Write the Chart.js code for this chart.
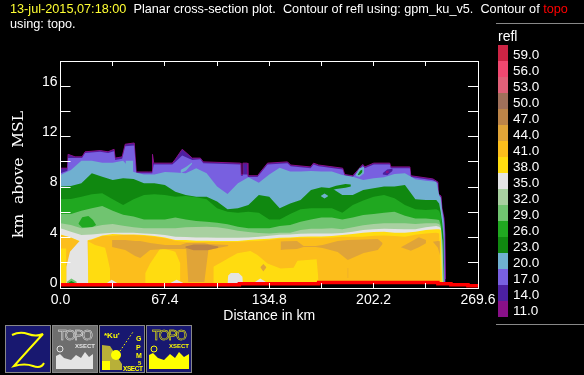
<!DOCTYPE html>
<html>
<head>
<meta charset="utf-8">
<title>refl cross-section</title>
<script src="https://cdn.jsdelivr.net/npm/chart.js@4"></script>
<style>
  body { margin: 0; background: #000; width: 584px; height: 375px; overflow: hidden; position: relative; font-family: "Liberation Sans", sans-serif; color: #fff; }
  canvas { position: absolute; left: 0; top: 0; }
  .title { position: absolute; left: 10px; font-size: 12.7px; white-space: pre; }
  .rule { position: absolute; left: 496px; width: 88px; height: 1px; background: #888; }
  #legend { position: absolute; left: 498px; top: 45px; }
  .swatch { width: 10px; height: 16px; position: relative; }
  .swatch span { position: absolute; left: 15px; top: 2px; font-size: 13.5px; line-height: 16px; }
  #unit { position: absolute; left: 498px; top: 28px; font-size: 14px; }
  svg { position: absolute; left: 0; top: 320px; }
</style>
</head>
<body>
<canvas id="chart" width="584" height="375"></canvas>

<div class="title" style="top:2px"><span style="color:#ffff33">13-jul-2015,07:18:00</span>  Planar cross-section plot.  Contour of refl using: gpm_ku_v5.  Contour of <span style="color:#ff0000">topo</span></div>
<div class="title" style="top:17px">using: topo.</div>

<div class="rule" style="top:23px"></div>
<div class="rule" style="top:324px"></div>
<div id="unit">refl</div>
<div id="legend"></div>

<svg width="200" height="55" font-family="Liberation Sans, sans-serif">
  <!-- Z -->
  <rect x="5.5" y="5.5" width="45" height="47" fill="#181870" stroke="#888"/>
  <path d="M12 15 Q20 11 28 14 T43 14 Q30 28 14 46 Q25 43 33 46 T44 43" fill="none" stroke="#ffff00" stroke-width="2"/>
  <!-- gray topo -->
  <rect x="52.5" y="5.5" width="45" height="47" fill="#6e6e6e" stroke="#888"/>
  <text x="58" y="20" font-size="14" fill="none" stroke="#e4e4e4" stroke-width="0.5" textLength="35">TOPO</text>
  <text x="75" y="28" font-size="6" font-weight="bold" fill="#e4e4e4" textLength="20">XSECT</text>
  <circle cx="60" cy="29" r="3" fill="none" stroke="#e4e4e4"/>
  <path d="M56 49 V36 L60 34 L64 38 L71 40 L76 35 L81 38 L85 32 L89 37 L93 34 V49 Z" fill="#e4e4e4"/>
  <!-- gpm -->
  <rect x="99.5" y="5.5" width="45" height="47" fill="#181870" stroke="#888"/>
  <text x="104" y="18" font-size="8" font-weight="bold" fill="#ffff00">*Ku'</text>
  <text x="136" y="21" font-size="7" font-weight="bold" fill="#ffff00">G</text>
  <text x="136" y="30" font-size="7" font-weight="bold" fill="#ffff00">P</text>
  <text x="136" y="38" font-size="7" font-weight="bold" fill="#ffff00">M</text>
  <text x="138" y="45" font-size="6" font-weight="bold" fill="#ffff00">5</text>
  <text x="123" y="51" font-size="6.5" font-weight="bold" fill="#ffff00" textLength="20">XSECT</text>
  <path d="M102 25 L110 26 L122 44 L122 50 L102 50 Z" fill="#b8b038"/>
  <circle cx="116" cy="35" r="5" fill="#ffff00"/>
  <rect x="102" y="41" width="8" height="9" fill="#ffff00"/>
  <path d="M120 31 L133 12" stroke="#ffff00" stroke-width="1" stroke-dasharray="1.5 2"/>
  <!-- yellow topo -->
  <rect x="146.5" y="5.5" width="45" height="47" fill="#181870" stroke="#888"/>
  <text x="152" y="20" font-size="14" fill="none" stroke="#ffff00" stroke-width="0.5" textLength="35">TOPO</text>
  <text x="169" y="28" font-size="6" font-weight="bold" fill="#ffff00" textLength="20">XSECT</text>
  <circle cx="154" cy="29" r="3" fill="none" stroke="#ffff00"/>
  <path d="M149 49 V35 L153 33 L158 38 L164 40 L170 34 L175 38 L179 32 L184 37 L189 34 V49 Z" fill="#ffff00"/>
</svg>

<script>
// legend
const legendLevels = [59, 56, 53, 50, 47, 44, 41, 38, 35, 32, 29, 26, 23, 20, 17, 14, 11];
const legendColors = ["#cc2444", "#f04870", "#e06078", "#a0705a", "#bc8448", "#e0a438", "#fcbe1c", "#ffdc10", "#e4e4e4",
  "#a8d0a0", "#70c470", "#20a820", "#108810", "#70b0d0", "#7860e0", "#4c20a0", "#881088"];

// axes
const xRange = [0, 269.6];
const yRange = [0, 18];
const xStep = 33.7;
const yStep = 2;
const yLabelValues = [0, 4, 8, 12, 16];

// cloud outline, km along the section and km above MSL
const cloudKm = [0, 4.5, 4.9, 9.4, 13.9, 15.9, 25.6, 30.7, 34.6, 35.3, 39.8, 41.8, 47.6, 48.9, 56.6, 59.2, 59.4, 60.2, 72.2, 74.1, 78.6, 85.1, 90.3, 92.2,
  116.2, 116.5, 117.5, 117.8, 120.7, 121, 127.2, 133.7, 146.6, 148.6, 161.5, 163.4, 166.7, 182.2, 183.5, 188.7, 195.2, 196.5, 202.3, 212.6, 213.3, 225.6, 226.2, 240.5, 243.7, 244, 245.7, 246.3, 247.6, 248.2, 248.6];
const top14 = [9.5, 9.5, 10.6, 10.4, 10.4, 10.8, 10.9, 10.8, 11.0, 10.3, 10.4, 11.4, 11.5, 9.2, 9.2, 9.2, 10.6, 9.9, 9.9, 10.2, 11.0, 10.3, 10.3, 10.0,
  9.9, 9.0, 9.0, 9.9, 9.9, 8.9, 8.9, 9.9, 10.0, 9.75, 9.6, 9.9, 9.75, 9.5, 9.0, 8.9, 9.8, 9.6, 9.9, 9.9, 9.6, 9.6, 8.9, 8.65, 8.4, 7.45, 7.3, 6.35, 5.55, 4.3, 0.7];
const top17 = [9.1, 9.3, 10.3, 10.3, 10.3, 10.7, 10.8, 10.7, 10.85, 10.15, 10.25, 11.25, 11.3, 9.1, 9.1, 9.1, 9.1, 9.8, 9.8, 10.0, 10.5, 10.15, 10.2, 9.9,
  9.8, 8.9, 8.9, 9.0, 9.0, 8.8, 8.8, 9.8, 9.9, 9.65, 9.5, 9.8, 9.65, 9.4, 8.9, 8.8, 9.7, 9.5, 9.8, 9.8, 9.5, 9.5, 8.8, 8.55, 8.3, 7.4, 7.2, 6.3, 5.5, 4.3, 0.7];

// inner contours share this grid
const distKm = [0, 6.74, 13.48, 20.22, 26.96, 33.7, 40.44, 47.18, 53.92, 60.66, 67.4, 74.14, 80.88, 87.62, 94.36, 101.1, 107.84, 114.58, 121.32, 128.06, 134.8,
  141.54, 148.28, 155.02, 161.76, 168.5, 175.24, 181.98, 188.72, 195.46, 202.2, 208.94, 215.68, 222.42, 229.16, 235.9, 242.64, 244.5, 245.5, 246.5, 247.5];
const top20 = [8.96, 9.36, 10.10, 10.10, 9.94, 9.94, 10.10, 9.2, 9.0, 9.0, 9.2, 9.15, 9.09, 9.49, 9.09, 8.04, 7.45, 8.30, 8.78, 8.35, 9.0, 9.54,
  9.23, 9.23, 9.28, 9.23, 9.23, 8.96, 8.83, 8.57, 8.70, 8.78, 9.04, 9.09, 8.62, 8.51, 8.43, 7.37, 7.11, 6.05, 5.13];
const top23 = [8.04, 8.09, 8.30, 9.09, 8.83, 8.57, 8.70, 8.65, 8.30, 8.30, 8.17, 7.64, 7.37, 7.24, 7.24, 6.85, 6.24, 6.32, 6.58, 7.37, 7.24, 6.32,
  6.71, 6.98, 7.77, 7.98, 7.90, 7.37, 7.37, 7.77, 7.90, 8.04, 8.04, 8.17, 7.03, 6.98, 6.98, 6.71, 6.05, 5.13, 3.80];
const top26 = [7.03, 7.06, 7.24, 7.43, 7.51, 7.03, 6.58, 7.03, 7.37, 7.43, 7.37, 7.24, 7.30, 7.19, 7.03, 6.32, 6.05, 5.97, 6.05, 5.97, 5.44, 5.44,
  5.87, 6.24, 6.32, 6.32, 6.32, 5.97, 6.58, 6.93, 7.24, 7.37, 7.11, 6.58, 6.24, 6.18, 6.24, 6.13, 5.79, 4.60, 0.5];
const top29 = [5.87, 5.87, 6.13, 6.32, 6.50, 6.13, 5.81, 5.66, 5.44, 5.44, 5.44, 5.60, 5.44, 5.31, 5.26, 5.18, 5.05, 4.86, 4.73, 4.73, 4.73, 4.91,
  4.99, 5.26, 5.44, 5.60, 5.60, 5.44, 5.60, 5.79, 5.87, 5.97, 6.05, 5.73, 5.52, 5.52, 5.44, 5.39, 4.99, 3.80, 0.35];
const top32 = [5.13, 4.99, 4.73, 4.81, 4.99, 5.07, 4.94, 4.81, 4.73, 4.73, 4.73, 4.73, 4.81, 4.84, 4.86, 4.81, 4.70, 4.54, 4.44, 4.36, 4.33, 4.39,
  4.39, 4.60, 4.70, 4.70, 4.73, 4.65, 4.81, 4.97, 5.07, 5.13, 5.13, 5.13, 5.07, 5.13, 5.13, 5.07, 4.86, 3.80, 0.35];
const top35 = [4.73, 4.46, 4.20, 4.25, 4.33, 4.39, 4.39, 4.39, 4.33, 4.28, 4.20, 4.07, 4.04, 4.01, 4.01, 3.99, 3.99, 3.99, 4.01, 4.07, 4.15, 4.23,
  4.25, 4.31, 4.33, 4.33, 4.33, 4.36, 4.46, 4.60, 4.65, 4.70, 4.68, 4.65, 4.65, 4.81, 4.91, 4.86, 4.73, 0.5, 0.35];
const top38 = [4.25, 4.01, 3.67, 3.86, 4.17, 4.28, 4.25, 4.25, 4.20, 4.12, 4.01, 3.80, 3.80, 3.75, 3.75, 3.72, 3.72, 3.72, 3.80, 3.86, 3.91, 3.99,
  4.01, 4.07, 4.09, 4.09, 4.12, 4.20, 4.28, 4.39, 4.44, 4.46, 4.39, 4.39, 4.46, 4.60, 4.65, 4.65, 4.60, 0.35, 0.35];
const top41 = [4.20, 3.99, 3.62, 3.80, 4.12, 4.15, 4.20, 4.20, 4.15, 4.07, 3.94, 3.75, 3.65, 3.65, 3.65, 3.65, 3.65, 3.65, 3.70, 3.72, 3.80, 3.91,
  3.94, 3.99, 3.99, 3.99, 4.01, 4.07, 4.07, 4.07, 4.15, 4.17, 4.12, 4.07, 4.23, 4.33, 4.39, 4.33, 0.35, 0.35, 0.35];

// terrain
const topoKm = [0, 115.5, 166.7, 243.7, 252.1, 263.1, 269.6];
const topoHeight = [0.26, 0.34, 0.44, 0.34, 0.26, 0.18, 0.18];

// closed pockets of one level inside another: km, top, bottom
const yellowAKm = [0, 3.8];
const yellowATop = [3.14, 3.14];
const yellowABase = [0.35, 0.35];
const yellowBKm = [17.8, 22.3, 28.8, 30, 32];
const yellowBTop = [3.7, 3.4, 3.2, 2.6, 1.5];
const yellowBBase = [0.35, 0.35, 0.35, 0.35, 0.35];
const yellowCKm = [54.7, 57.9, 64.4, 70.9, 74.1, 77.4];
const yellowCTop = [1.16, 1.95, 3.14, 3.0, 2.88, 1.95];
const yellowCBase = [0.35, 0.35, 0.35, 0.35, 0.35, 0.35];
const yellowDKm = [98.7, 104.5, 108.4, 114.2, 122.6, 127.2, 133.7, 142.1, 150.5, 153, 165.4, 166.7];
const yellowDTop = [1.69, 2.08, 2.35, 2.75, 2.93, 2.61, 1.95, 1.55, 1.6, 2.16, 2.27, 0.5];
const yellowDBase = [0.35, 0.35, 0.35, 0.35, 0.35, 0.35, 0.35, 0.35, 0.35, 0.35, 0.35, 0.35];

const orangeAKm = [33.3, 41.8, 48.2, 51.5, 57.9, 67.6, 77.4, 81.2, 82.5, 92.9, 95.5, 108.4];
const orangeATop = [3.81, 3.81, 3.73, 3.73, 3.57, 3.41, 3.41, 3.57, 3.57, 3.57, 3.49, 3.41];
const orangeABase = [3.25, 3.01, 2.54, 2.38, 3.01, 3.09, 3.09, 3.09, 0.48, 0.48, 3.01, 3.33];
const orangeBKm = [142.1, 145, 152.7, 157, 164.8, 169.3, 179, 185.5, 195.8, 204.9, 208];
const orangeBTop = [3.69, 3.71, 3.73, 3.33, 3.33, 3.41, 3.73, 3.81, 3.85, 3.89, 3.57];
const orangeBBase = [3.01, 3.05, 3.09, 3.25, 3.25, 3.17, 2.85, 2.22, 2.78, 3.01, 3.49];
const orangeCKm = [219.8, 226.2, 231.4, 236];
const orangeCTop = [3.23, 3.67, 4.02, 3.81];
const orangeCBase = [3.23, 2.96, 3.23, 3.54];
const orangeDKm = [240.5, 243.7, 245];
const orangeDTop = [3.67, 3.72, 3.7];
const orangeDBase = [3.67, 3.2, 2.6];
const orangeEKm = [129, 131, 133];
const orangeETop = [1.65, 1.9, 1.65];
const orangeEBase = [1.65, 1.3, 1.65];
const orangeFKm = [185.3, 185.9];
const orangeFTop = [1.59, 1.59];
const orangeFBase = [0.79, 0.79];
const brownKm = [80.6, 86, 95, 102];
const brownTop = [3.3, 3.45, 3.45, 3.3];
const brownBase = [3.2, 3.0, 3.0, 3.2];

const whiteAKm = [3.6, 3.8, 6.1, 11.3, 13, 17.5, 18];
const whiteATop = [0.4, 1.69, 2.88, 3.59, 3.8, 3.8, 0.4];
const whiteABase = [0.35, 0.35, 0.35, 0.35, 0.35, 0.35, 0.35];
const whiteBKm = [107.8, 108.3, 110, 115, 117.5, 117.8];
const whiteBTop = [0.4, 1.0, 1.18, 1.18, 0.9, 0.4];
const whiteBBase = [0.35, 0.35, 0.35, 0.35, 0.35, 0.35];
const whiteCKm = [30, 33, 36.6];
const whiteCTop = [0.4, 0.65, 0.4];
const whiteDKm = [70.9, 75, 79.3];
const whiteDTop = [0.4, 0.65, 0.4];
const whiteEKm = [124.6, 129, 133.7];
const whiteETop = [0.4, 0.75, 0.4];
const thinBase = [0.35, 0.35, 0.35];

const lowGreenKm = [4.2, 7, 10.5];
const lowGreenTop = [0.5, 0.75, 0.5];
const lowDarkKm = [5, 7, 9.5];
const lowDarkTop = [0.4, 0.55, 0.4];
const greenBlobKm = [11.5, 14, 18, 21, 23];
const greenBlobTop = [5.1, 5.62, 5.71, 5.4, 5.0];
const greenBlobBase = [5.1, 4.8, 4.8, 4.85, 5.0];
const fingerKm = [173, 178, 184, 187.5];
const fingerTop = [7.9, 8.1, 8.25, 8.2];
const fingerBase = [7.7, 7.85, 7.95, 8.05];
const holeKm = [168, 170.5, 173];
const holeTop = [7.3, 7.5, 7.3];
const holeBase = [7.3, 7.1, 7.3];
const spikeKm = [42, 47];
const spikeTop = [10.1, 10.1];
const spikeBase = [9.0, 9.0];
const streakKm = [77.5, 81, 85];
const streakTop = [9.35, 9.6, 9.95];
const streakBase = [9.1, 9.3, 9.85];
const smallBlueKm = [190.6, 193, 196];
const smallBlueTop = [9.0, 9.5, 9.6];
const smallBlueBase = [8.9, 8.8, 9.1];
const smallGreenKm = [192, 193.5, 195];
const smallGreenTop = [9.0, 9.3, 9.4];
const smallGreenBase = [8.95, 9.0, 9.2];
const darkBlobKm = [208, 211, 214.5];
const darkBlobTop = [9.1, 9.4, 9.45];
const darkBlobBase = [9.0, 8.95, 9.3];
const darkCoreKm = [210, 212];
const darkCoreTop = [9.28, 9.32];
const darkCoreBase = [9.1, 9.12];

const groundKm = 0.35;

function colorOf(level) {
  return legendColors[legendLevels.indexOf(level)];
}

function zip(xs, ys) {
  return xs.map((x, i) => ({ x: x, y: ys[i] }));
}

// painted from the outside in, reversed at the end because Chart.js paints the first dataset last
let painted = [];

function addLevel(level, xs, ys, border) {
  painted.push({
    label: "refl " + level,
    data: zip(xs, ys),
    borderColor: border || "transparent",
    borderWidth: border ? 1 : 0,
    backgroundColor: colorOf(level),
    fill: { target: { value: groundKm } },
    pointRadius: 0,
  });
}

function addPocket(level, xs, top, base) {
  painted.push({ label: "base", data: zip(xs, base), borderWidth: 0, pointRadius: 0, fill: false });
  painted.push({
    label: "pocket " + level,
    data: zip(xs, top),
    borderWidth: 0,
    pointRadius: 0,
    backgroundColor: colorOf(level),
    fill: "+1",
  });
}

addLevel(14, cloudKm, top14, colorOf(11));
addLevel(17, cloudKm, top17);
addPocket(14, darkBlobKm, darkBlobTop, darkBlobBase);
addPocket(11, darkCoreKm, darkCoreTop, darkCoreBase);
addLevel(20, distKm, top20);
addPocket(20, spikeKm, spikeTop, spikeBase);
addPocket(20, streakKm, streakTop, streakBase);
addPocket(20, smallBlueKm, smallBlueTop, smallBlueBase);
addPocket(23, smallGreenKm, smallGreenTop, smallGreenBase);
addPocket(23, fingerKm, fingerTop, fingerBase);
addLevel(23, distKm, top23);
addPocket(20, holeKm, holeTop, holeBase);
addLevel(26, distKm, top26);
addLevel(29, distKm, top29);
addPocket(26, greenBlobKm, greenBlobTop, greenBlobBase);
addLevel(32, distKm, top32);
addLevel(35, distKm, top35);
addLevel(38, distKm, top38);
addLevel(41, distKm, top41);
addPocket(38, yellowAKm, yellowATop, yellowABase);
addPocket(38, yellowBKm, yellowBTop, yellowBBase);
addPocket(38, yellowCKm, yellowCTop, yellowCBase);
addPocket(38, yellowDKm, yellowDTop, yellowDBase);
addPocket(44, orangeAKm, orangeATop, orangeABase);
addPocket(44, orangeBKm, orangeBTop, orangeBBase);
addPocket(44, orangeCKm, orangeCTop, orangeCBase);
addPocket(44, orangeDKm, orangeDTop, orangeDBase);
addPocket(44, orangeEKm, orangeETop, orangeEBase);
addPocket(44, orangeFKm, orangeFTop, orangeFBase);
addPocket(47, brownKm, brownTop, brownBase);
addPocket(35, whiteAKm, whiteATop, whiteABase);
addPocket(35, whiteBKm, whiteBTop, whiteBBase);
addPocket(35, whiteCKm, whiteCTop, thinBase);
addPocket(35, whiteDKm, whiteDTop, thinBase);
addPocket(35, whiteEKm, whiteETop, thinBase);
addPocket(29, lowGreenKm, lowGreenTop, thinBase);
addPocket(23, lowDarkKm, lowDarkTop, thinBase);

painted.push({
  label: "topo",
  data: zip(topoKm, topoHeight),
  borderColor: "#ff0000",
  borderWidth: 3.5,
  stepped: true,
  pointRadius: 0,
  fill: false,
});

//---------------------------------------------
// legend
//---------------------------------------------
let legend = document.querySelector("#legend");
legendLevels.forEach((level, i) => {
  let swatch = document.createElement("div");
  swatch.className = "swatch";
  swatch.style.background = legendColors[i];
  swatch.innerHTML = `<span>${level.toFixed(1)}</span>`;
  legend.appendChild(swatch);
});

//---------------------------------------------
// chart
//---------------------------------------------
const frame = { display: true, color: "#fff", width: 1, z: 2 };

new Chart(document.querySelector("#chart"), {
  type: "line",
  data: { datasets: painted.reverse() },
  options: {
    responsive: false,
    animation: false,
    layout: { padding: { top: 61, right: 106, left: 0, bottom: 0 } },
    plugins: { legend: { display: false }, tooltip: { enabled: false } },
    scales: {
      x: {
        type: "linear",
        position: "bottom",
        min: xRange[0],
        max: xRange[1],
        afterFit: (s) => { s.height = 87; },
        border: frame,
        grid: { drawOnChartArea: false, tickLength: -5, color: "#fff", z: 2 },
        ticks: {
          stepSize: xStep,
          color: "#fff",
          font: { family: "Liberation Sans", size: 14 },
          padding: 9,
          maxRotation: 0,
          autoSkip: false,
          callback: (v, i) => (i % 2 == 0 ? Number(v).toFixed(1) : ""),
        },
        title: {
          display: true,
          text: "Distance in km",
          color: "#fff",
          font: { family: "Liberation Sans", size: 14 },
          padding: { top: 0, bottom: 50 },
        },
      },
      xTop: {
        type: "linear",
        position: "top",
        min: xRange[0],
        max: xRange[1],
        afterFit: (s) => { s.height = 0; },
        border: frame,
        grid: { drawOnChartArea: false, tickLength: -5, color: "#fff", z: 2 },
        ticks: { stepSize: xStep, display: false },
      },
      y: {
        type: "linear",
        position: "left",
        weight: 0,
        min: yRange[0],
        max: yRange[1],
        afterFit: (s) => { s.width = 0; },
        border: frame,
        grid: { drawOnChartArea: false, tickLength: -10, color: "#fff", z: 2 },
        ticks: { stepSize: yStep, display: false },
      },
      yRight: {
        type: "linear",
        position: "right",
        min: yRange[0],
        max: yRange[1],
        afterFit: (s) => { s.width = 0; },
        border: frame,
        grid: { drawOnChartArea: false, tickLength: -10, color: "#fff", z: 2 },
        ticks: { stepSize: yStep, display: false },
      },
      // tick numbers sit 5px above their tick marks in the original
      yNumbers: {
        type: "linear",
        position: "left",
        weight: 1,
        min: yRange[0] - 0.36,
        max: yRange[1] - 0.36,
        afterFit: (s) => { s.width = 60.5; },
        afterBuildTicks: (s) => { s.ticks = yLabelValues.map((v) => ({ value: v })); },
        border: { display: false },
        grid: { display: false, drawTicks: false },
        ticks: {
          color: "#fff",
          font: { family: "Liberation Sans", size: 14 },
          padding: 3,
          callback: (v) => String(v),
        },
        title: {
          display: true,
          text: "km  above  MSL",
          color: "#fff",
          font: { family: "DejaVu Serif", size: 15.5 },
          padding: { top: 10, bottom: 0 },
        },
      },
    },
  },
});
</script>
</body>
</html>
